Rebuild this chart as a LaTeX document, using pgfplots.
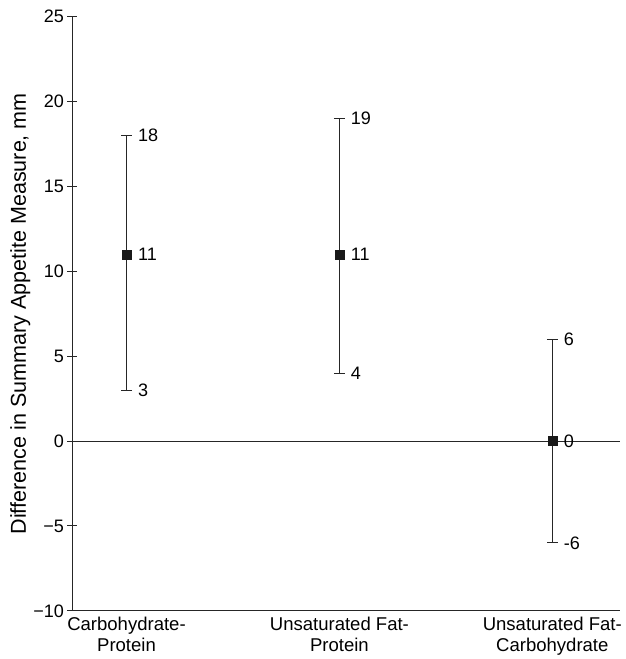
\documentclass[border=0pt]{standalone}
\usepackage{fontspec}
\setmainfont{Liberation Sans}
\usepackage{pgfplots}
\usepackage{pgfplotstable}
\pgfplotsset{compat=1.18}
\pgfplotstableread{
x y lab
0 18 18
0 11 11
0 3 3
1 19 19
1 11 11
1 4 4
2 6 6
2 0 0
2 -6 -6
}\labels
\begin{document}
\begin{tikzpicture}
\begin{axis}[
  scale only axis, width=547pt, height=593pt,
  xmin=-0.254, xmax=2.32, ymin=-10, ymax=25,
  axis lines*=left,
  axis line style={line width=1pt, black!85},
  xtick={0,1,2},
  xticklabels={Carbohydrate-\\Protein, Unsaturated Fat-\\Protein, Unsaturated Fat-\\Carbohydrate},
  xticklabel style={align=center, font=\fontsize{18.5}{21}\selectfont, yshift=2pt},
  x tick style={draw=none},
  ytick={-10,-5,0,5,10,15,20,25},
  yticklabels={−10,−5,0,5,10,15,20,25},
  yticklabel style={font=\fontsize{18}{21}\selectfont},
  y tick style={line width=1pt, black!85},
  tick align=center, major tick length=10pt,
  ylabel={Difference in Summary Appetite Measure, mm},
  ylabel style={font=\fontsize{21.5}{24}\selectfont},
  ylabel shift=-4pt,
  clip=false,
]
\addplot[line width=1pt, black!85] coordinates {(-0.254,0) (2.32,0)};
\addplot[only marks, mark=square*, mark size=4.5pt, mark options={fill=black!90, draw=black!90},
  error bars/.cd, y dir=both, y explicit, error mark=|,
  error mark options={mark size=5.5pt, line width=1pt, black!85},
  error bar style={line width=1pt, black!85}]
  coordinates {(0,11) += (0,7) -= (0,8)
               (1,11) += (0,8) -= (0,7)
               (2,0) += (0,6) -= (0,6)};
\addplot[draw=none, mark=none, nodes near coords, point meta=explicit symbolic,
  nodes near coords style={anchor=west, xshift=8pt, font=\fontsize{18}{21}\selectfont}]
  table[x=x, y=y, meta=lab] {\labels};
\end{axis}
\path ([shift={(-7pt,7pt)}]current bounding box.north west);
\end{tikzpicture}
\end{document}
